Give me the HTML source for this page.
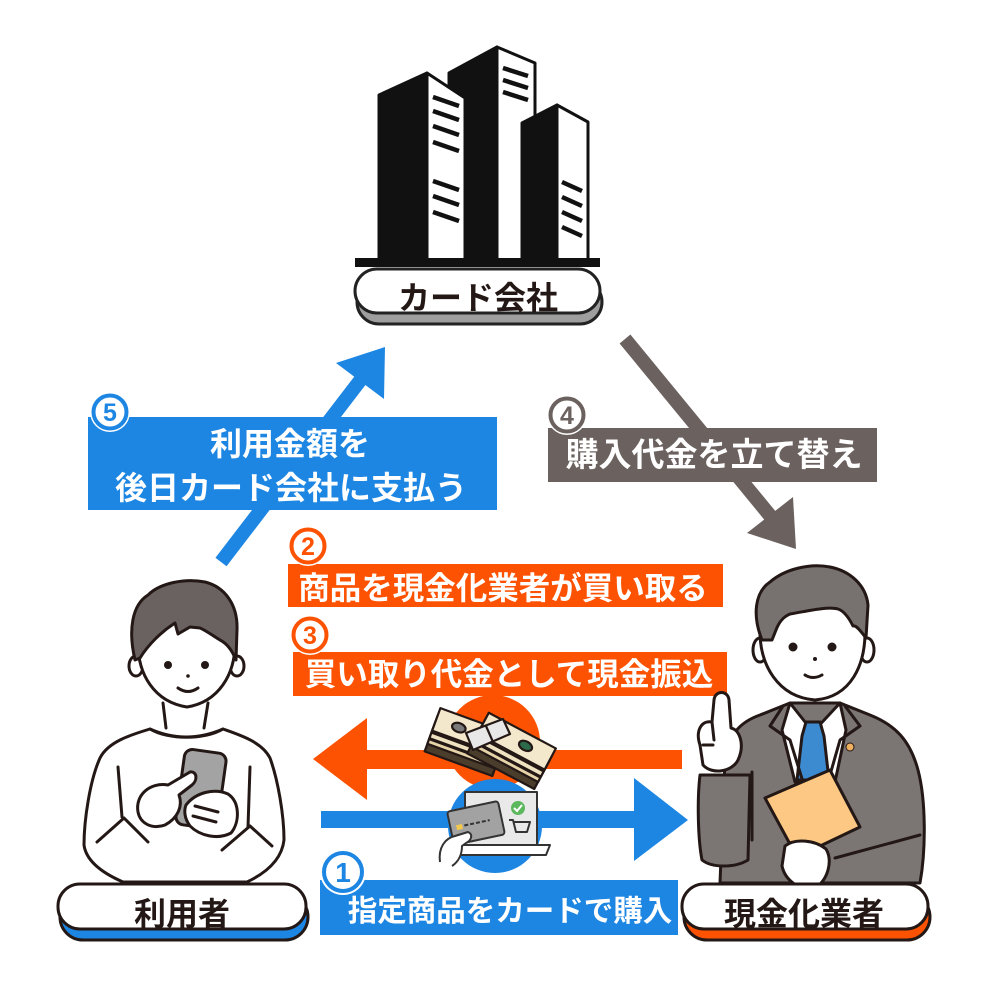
<!DOCTYPE html>
<html><head><meta charset="utf-8">
<style>
html,body{margin:0;padding:0;background:#fff;}
svg{display:block;}
text{font-family:"Liberation Sans","Noto Sans CJK JP",sans-serif;font-weight:700;}
</style></head><body>
<svg width="1000" height="1000" viewBox="0 0 1000 1000" xmlns="http://www.w3.org/2000/svg">
<rect width="1000" height="1000" fill="#fff"/>

<!-- Buildings -->
<g stroke="#111" stroke-width="3" stroke-linejoin="round">
  <polygon points="449,73 497,47 497,260 449,260" fill="#111"/>
  <polygon points="497,47 535,63 535,260 497,260" fill="#fff"/>
  <polygon points="379,95 427,73 427,260 379,260" fill="#111"/>
  <polygon points="427,73 465,98 465,260 427,260" fill="#fff"/>
  <polygon points="522,123 557,105 557,260 522,260" fill="#111"/>
  <polygon points="557,105 588,122 588,260 557,260" fill="#fff"/>
</g>
<g stroke="#111" stroke-width="4.5">
  <line x1="433" y1="97" x2="459" y2="106"/>
  <line x1="433" y1="111" x2="459" y2="120"/>
  <line x1="433" y1="126" x2="459" y2="135"/>
  <line x1="433" y1="142" x2="459" y2="151"/>
  <line x1="433" y1="181" x2="459" y2="190"/>
  <line x1="433" y1="196" x2="459" y2="205"/>
  <line x1="433" y1="212" x2="459" y2="221"/>
  <line x1="503" y1="68" x2="528" y2="76"/>
  <line x1="503" y1="80" x2="528" y2="88"/>
  <line x1="503" y1="92" x2="528" y2="100"/>
  <line x1="562" y1="182" x2="582" y2="191"/>
  <line x1="562" y1="197" x2="582" y2="206"/>
  <line x1="562" y1="212" x2="582" y2="221"/>
  <line x1="562" y1="227" x2="582" y2="236"/>
</g>
<rect x="355" y="258" width="245" height="9" fill="#111"/>

<!-- Card company pill -->
<rect x="357" y="280" width="245" height="44" rx="22" fill="#9e9e9e" stroke="#222" stroke-width="3"/>
<rect x="355" y="269" width="245" height="44" rx="22" fill="#fff" stroke="#222" stroke-width="3"/>
<text x="478" y="309" font-size="32" text-anchor="middle" fill="#231815">カード会社</text>

<!-- Arrow 5 (blue, up-right) -->
<line x1="221" y1="562" x2="362" y2="378" stroke="#1d86e3" stroke-width="14"/>
<polygon points="385,347 336,363 384,399" fill="#1d86e3"/>

<!-- Arrow 4 (gray, down-right) -->
<line x1="625" y1="339" x2="772" y2="518" stroke="#6b615f" stroke-width="14"/>
<polygon points="796,549 747,533 793,497" fill="#6b615f"/>

<!-- Label 5 -->
<rect x="88" y="417" width="409" height="93" fill="#1d86e3"/>
<text x="290" y="455" font-size="32" text-anchor="middle" fill="#fff">利用金額を</text>
<text x="291" y="499" font-size="32" text-anchor="middle" fill="#fff">後日カード会社に支払う</text>
<circle cx="110" cy="412" r="20" fill="#fff"/>
<circle cx="110" cy="412" r="16.5" fill="#fff" stroke="#1d86e3" stroke-width="4"/>
<text x="110" y="421" font-size="25" text-anchor="middle" fill="#1d86e3">5</text>

<!-- Label 4 -->
<rect x="548" y="428" width="329" height="54" fill="#6b615f"/>
<text x="714" y="466" font-size="33" text-anchor="middle" fill="#fff">購入代金を立て替え</text>
<circle cx="567" cy="415" r="20" fill="#fff"/>
<circle cx="567" cy="415" r="16.5" fill="#fff" stroke="#6b615f" stroke-width="4"/>
<text x="567" y="424" font-size="25" text-anchor="middle" fill="#6b615f">4</text>

<!-- Label 2 -->
<rect x="288" y="564" width="435" height="43" fill="#fd5201"/>
<text x="503" y="599" font-size="31.5" text-anchor="middle" fill="#fff">商品を現金化業者が買い取る</text>
<circle cx="308" cy="546" r="20" fill="#fff"/>
<circle cx="308" cy="546" r="16.5" fill="#fff" stroke="#fd5201" stroke-width="4"/>
<text x="308" y="555" font-size="25" text-anchor="middle" fill="#fd5201">2</text>

<!-- Label 3 -->
<rect x="293" y="652" width="434" height="44" fill="#fd5201"/>
<text x="509" y="685" font-size="31.5" text-anchor="middle" fill="#fff">買い取り代金として現金振込</text>
<circle cx="310" cy="635" r="20" fill="#fff"/>
<circle cx="310" cy="635" r="16.5" fill="#fff" stroke="#fd5201" stroke-width="4"/>
<text x="310" y="644" font-size="25" text-anchor="middle" fill="#fd5201">3</text>

<!-- Orange arrow (left) -->
<rect x="365" y="750" width="317" height="19" fill="#fd5201"/>
<polygon points="313,759 367,718 367,800" fill="#fd5201"/>
<!-- Blue arrow (right) -->
<rect x="321" y="811" width="316" height="17" fill="#1d86e3"/>
<polygon points="688,820 634,778 634,861" fill="#1d86e3"/>

<!-- circles behind icons -->
<circle cx="493" cy="742" r="47" fill="#fd5201"/>
<circle cx="495" cy="826" r="47" fill="#1d86e3"/>

<!-- Money stacks -->
<g stroke="#231815" stroke-width="2.2" stroke-linejoin="round">
  <g transform="translate(466,743) rotate(20)">
    <rect x="-36" y="-4" width="72" height="26" fill="#4a3d2c"/>
    <rect x="-36" y="-10" width="72" height="24" fill="#e6d3a8"/>
    <rect x="-36" y="-16" width="72" height="24" fill="#efe2c0"/>
    <rect x="-36" y="-24" width="72" height="24" fill="#f3e8cc"/>
    <ellipse cx="-12" cy="-12" rx="7" ry="4.5" fill="#7a7a7a"/>
    <line x1="-36" y1="2" x2="36" y2="2"/>
    <line x1="-36" y1="9" x2="36" y2="9"/>
  </g>
  <g transform="translate(512,750) rotate(28)">
    <rect x="-38" y="-2" width="76" height="26" fill="#4a3d2c"/>
    <rect x="-38" y="-8" width="76" height="24" fill="#e6d3a8"/>
    <rect x="-38" y="-14" width="76" height="24" fill="#efe2c0"/>
    <rect x="-38" y="-22" width="76" height="24" fill="#f3e8cc"/>
    <ellipse cx="10" cy="-10" rx="7" ry="4.5" fill="#2d6a4a"/>
    <line x1="-38" y1="4" x2="38" y2="4"/>
    <line x1="-38" y1="11" x2="38" y2="11"/>
  </g>
  <polygon points="466,733 503,719 510,734 473,750" fill="#e8e8e8"/>
  <line x1="486" y1="726" x2="493" y2="742"/>
</g>

<!-- Laptop -->
<g stroke="#333" stroke-width="2" stroke-linejoin="round">
  <rect x="465" y="792" width="72" height="53" fill="#e9e9e9"/>
  <polygon points="457,845 550,845 546,855 461,855" fill="#fff"/>
  <g transform="translate(476,823) rotate(-12)">
    <rect x="-26" y="-17" width="52" height="34" rx="3" fill="#a2a2a2"/>
    <rect x="-20" y="-2" width="6" height="5" fill="#f2c94c" stroke="none"/>
    <line x1="-12" y1="0" x2="14" y2="0" stroke-dasharray="4 2"/>
  </g>
  <path d="M440,862 C438,848 445,838 455,836 L468,832 C473,834 472,840 466,843 L462,846 C462,855 458,862 452,866" fill="#fff"/>
  <path d="M509,820 L513,820 L516,832 L527,832 L530,822 L514,822" fill="none"/>
</g>
<circle cx="518" cy="808" r="7" fill="#5cb85c"/>
<path d="M514,808 L517,811 L522,805" stroke="#fff" stroke-width="2" fill="none"/>

<!-- Label 1 -->
<rect x="320" y="880" width="358" height="55" fill="#1d86e3"/>
<text x="510" y="921" font-size="29.5" text-anchor="middle" fill="#fff">指定商品をカードで購入</text>
<circle cx="343" cy="872" r="23" fill="#fff"/>
<circle cx="343" cy="872" r="19" fill="#fff" stroke="#1d86e3" stroke-width="4"/>
<text x="343" y="882" font-size="28" text-anchor="middle" fill="#1d86e3">1</text>

<!-- User person -->
<g stroke="#231815" stroke-width="3" stroke-linejoin="round" stroke-linecap="round">
  <path d="M150,729 C130,735 108,742 100,758 C90,780 84,820 84,845 C86,860 100,872 123,882 L247,882 C268,872 282,858 284,840 C284,815 278,780 270,758 C262,742 240,735 223,729 C205,740 168,740 150,729 Z" fill="#fff"/>
  <path d="M150,729 Q186,745 223,729" fill="none"/>
  <line x1="118" y1="767" x2="122" y2="817"/>
  <line x1="250" y1="767" x2="248" y2="827"/>
  <path d="M97,842 L124,818 L148,842" fill="none"/>
  <path d="M222,850 L250,826 L272,846" fill="none"/>
  <line x1="163" y1="703" x2="166" y2="728"/>
  <line x1="208" y1="703" x2="204" y2="728"/>
  <ellipse cx="136" cy="666" rx="7" ry="10" fill="#fff"/>
  <ellipse cx="237" cy="666" rx="7" ry="10" fill="#fff"/>
  <path d="M138,640 C137,675 155,702 187,707 C218,702 236,675 235,640 C235,600 138,600 138,640 Z" fill="#fff"/>
  <path d="M135,660 C128,630 132,605 148,595 C160,583 185,578 205,582 C225,587 238,605 237,630 L236,660 C232,650 226,643 220,640 C212,635 205,630 200,628 L190,627 L178,634 L175,623 C161,632 148,645 140,658 Z" fill="#6a6260"/>
  <g transform="translate(201,789) rotate(8)">
    <rect x="-21" y="-38" width="42" height="76" rx="8" fill="#a3a3a3"/>
  </g>
  <path d="M138,812 C135,795 150,782 168,785 L190,772 C197,771 198,780 192,785 L179,795 C183,806 178,818 165,825 C150,830 140,822 138,812 Z" fill="#fff"/>
  <path d="M186,805 C196,792 215,788 228,794 C240,802 240,822 231,833 C218,840 200,836 190,826 C184,818 184,810 186,805 Z" fill="#fff"/>
  <path d="M195,806 L218,812 M193,816 L216,822" fill="none"/>
</g>
<circle cx="168" cy="665" r="4" fill="#231815"/>
<circle cx="205" cy="665" r="4" fill="#231815"/>
<path d="M178,688 Q188,695 198,688" stroke="#231815" stroke-width="3" fill="none" stroke-linecap="round"/>
<circle cx="188" cy="676" r="1.8" fill="#231815"/>

<!-- Dealer person -->
<g stroke="#231815" stroke-width="3" stroke-linejoin="round" stroke-linecap="round">
  <path d="M790,703 L760,715 C740,722 728,735 725,760 L720,883 L920,883 C926,850 926,800 918,770 C910,740 895,725 870,715 L840,703 Z" fill="#7b7574"/>
  <path d="M700,775 C697,800 698,840 702,860 C712,868 735,868 748,860 L750,775 Z" fill="#7b7574"/>
  <polygon points="790,703 813,732 840,703 846,730 835,782 795,782 782,730" fill="#fff"/>
  <polygon points="806,722 820,722 824,736 829,780 797,780 802,736" fill="#3c8ad0"/>
  <path d="M783,706 L770,726 L790,740 L803,782" fill="none"/>
  <path d="M845,706 L860,726 L840,740 L828,782" fill="none"/>
  <line x1="752" y1="772" x2="752" y2="840"/>
  <path d="M700,745 C695,730 702,720 712,722 L714,700 C715,690 728,690 729,700 L731,728 C740,730 745,745 738,760 C732,772 712,775 703,765 Z" fill="#fff"/>
  <path d="M712,722 L714,740 M703,745 L713,745" fill="none"/>
  <polygon points="765,798 830,770 860,827 797,857" fill="#fdc883"/>
  <path d="M920,835 L835,858" fill="none"/>
  <path d="M785,846 C795,838 815,840 826,849 C833,861 828,880 815,888 C800,892 785,880 782,866 Z" fill="#fff"/>
  <ellipse cx="760" cy="650" rx="7" ry="12" fill="#fff"/>
  <ellipse cx="867" cy="650" rx="7" ry="12" fill="#fff"/>
  <path d="M760,628 C759,665 778,697 815,700 C851,697 866,665 865,628 C865,585 760,585 760,628 Z" fill="#fff"/>
  <path d="M762,640 C752,615 755,592 770,582 C785,569 810,563 830,567 C850,571 866,585 868,605 L866,638 C860,630 856,625 853,626 C849,618 844,611 838,609 C828,606 808,611 790,614 C783,617 779,622 776,630 L772,640 Z" fill="#77716f"/>
</g>
<circle cx="850" cy="747" r="4" fill="#f0b060" stroke="#231815" stroke-width="1"/>
<circle cx="793" cy="647" r="4.5" fill="#231815"/>
<circle cx="832" cy="647" r="4.5" fill="#231815"/>
<circle cx="815" cy="659" r="2" fill="#231815"/>
<path d="M805,675 Q813,680 822,675" stroke="#231815" stroke-width="3" fill="none" stroke-linecap="round"/>

<!-- User pill -->
<rect x="60" y="894" width="248" height="46" rx="23" fill="#1d86e3" stroke="#231815" stroke-width="3"/>
<rect x="58" y="884" width="248" height="45" rx="22" fill="#fff" stroke="#231815" stroke-width="3"/>
<text x="182" y="925" font-size="32" text-anchor="middle" fill="#231815">利用者</text>

<!-- Dealer pill -->
<rect x="684" y="894" width="246" height="46" rx="23" fill="#fd5201" stroke="#231815" stroke-width="3"/>
<rect x="682" y="884" width="246" height="45" rx="22" fill="#fff" stroke="#231815" stroke-width="3"/>
<text x="804" y="925" font-size="32" text-anchor="middle" fill="#231815">現金化業者</text>
</svg>
</body></html>
